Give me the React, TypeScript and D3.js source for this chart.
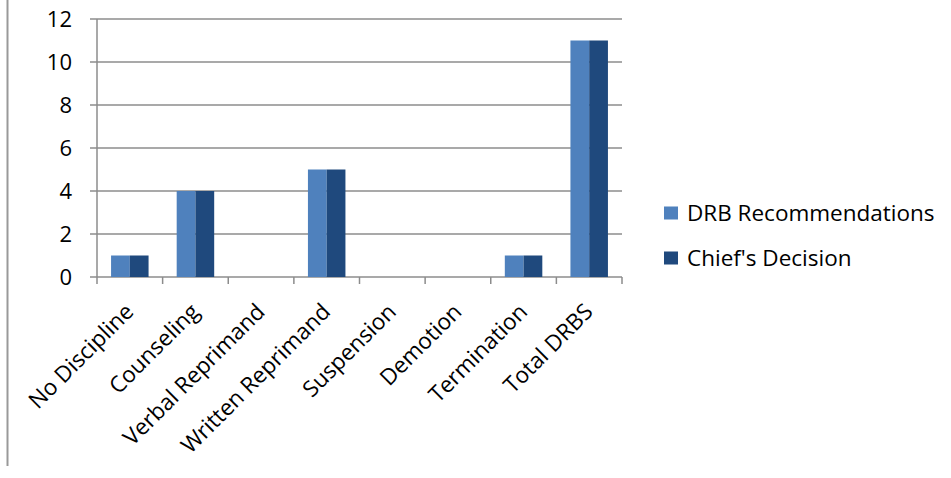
import React from "react";
import * as d3 from "d3";

const categories = [
  "No Discipline",
  "Counseling",
  "Verbal Reprimand",
  "Written Reprimand",
  "Suspension",
  "Demotion",
  "Termination",
  "Total DRBS",
];
const drbRecommendations = [1, 4, 0, 5, 0, 0, 1, 11];
const chiefsDecision = [1, 4, 0, 5, 0, 0, 1, 11];
const seriesNames = ["DRB Recommendations", "Chief's Decision"];
const seriesColors = ["#4F81BD", "#1F497D"];
const yTicks = [0, 2, 4, 6, 8, 10, 12];

const W = 951;
const H = 478;
const FONT = "'Open Sans', Lato, sans-serif";

export default function App() {
  const x = d3.scaleBand<string>().domain(categories).range([97, 622]).paddingInner(0).paddingOuter(0);
  const xs = d3
    .scaleBand<string>()
    .domain(seriesNames)
    .range([0, x.bandwidth()])
    .paddingInner(0)
    .paddingOuter(0.75);
  const y = d3.scaleLinear().domain([0, 12]).range([277, 19]);
  const series = [drbRecommendations, chiefsDecision];
  const gridColor = "#8C8C8C";
  const boundaries = categories.map((c) => x(c) as number).concat([622]);

  return (
    <svg
      width={W}
      height={H}
      style={{ position: "absolute", left: 0, top: 0, background: "#fff" }}
      fontFamily={FONT}
    >
      <line x1={7.5} x2={7.5} y1={0} y2={466} stroke="#999" strokeWidth={2} />
      {yTicks.map((t) => (
        <g key={t}>
          <line x1={90} x2={622} y1={y(t)} y2={y(t)} stroke={gridColor} strokeWidth={1.5} />
          <text x={72} y={y(t)} dy="0.36em" textAnchor="end" fontSize={22} fill="#000">
            {t}
          </text>
        </g>
      ))}
      <line x1={97} x2={97} y1={19} y2={277} stroke={gridColor} strokeWidth={1.5} />
      {boundaries.map((b, i) => (
        <line key={i} x1={b} x2={b} y1={277} y2={284} stroke={gridColor} strokeWidth={1.5} />
      ))}
      {categories.map((c, i) => (
        <g key={c}>
          {series.map((s, j) => {
            const v = s[i];
            if (v <= 0) return null;
            return (
              <rect
                key={j}
                x={(x(c) as number) + (xs(seriesNames[j]) as number)}
                y={y(v)}
                width={xs.bandwidth()}
                height={y(0) - y(v)}
                fill={seriesColors[j]}
              />
            );
          })}
        </g>
      ))}
      {categories.map((c) => {
        const cx = (x(c) as number) + x.bandwidth() / 2;
        return (
          <text
            key={c}
            transform={`translate(${cx - 6},${302}) rotate(-45)`}
            textAnchor="end"
            dy="0.7em"
            fontSize={22.5}
            fill="#000"
          >
            {c}
          </text>
        );
      })}
      {seriesNames.map((n, i) => (
        <g key={n} transform={`translate(664,${213 + i * 45})`}>
          <rect x={0} y={-6.5} width={14} height={13} fill={seriesColors[i]} />
          <text x={23} y={0} dy="0.36em" fontSize={22.5} fill="#000">
            {n}
          </text>
        </g>
      ))}
    </svg>
  );
}
